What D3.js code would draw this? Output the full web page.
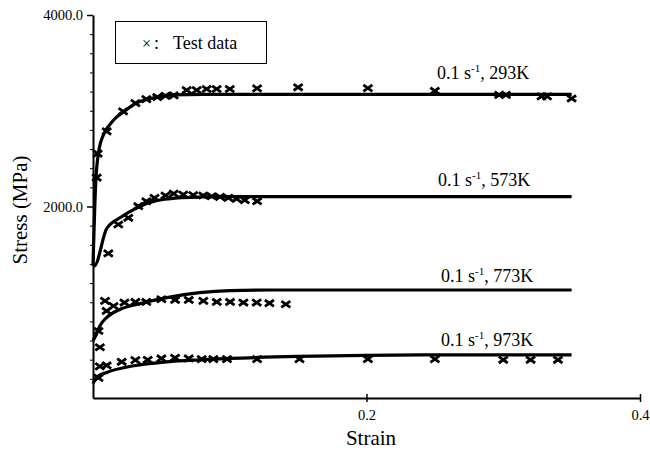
<!DOCTYPE html>
<html>
<head>
<meta charset="utf-8">
<script src="https://cdn.jsdelivr.net/npm/d3@7/dist/d3.min.js"></script>
<style>
  html, body { margin: 0; padding: 0; background: #fff; }
  svg { display: block; font-family: "Liberation Serif", "Times New Roman", serif; }
</style>
</head>
<body>
<svg id="chart" width="650" height="450"></svg>
<script>
// Model (fitted) flow-stress curves at 0.1 s^-1: strain and stress (MPa)
const fit293Strain = [0, 0.002, 0.004, 0.008, 0.012, 0.017, 0.023, 0.031, 0.043, 0.058, 0.08, 0.35];
const fit293Stress = [1380, 2250, 2560, 2760, 2850, 2930, 2995, 3075, 3130, 3165, 3172, 3172];
const fit573Strain = [0, 0.001, 0.010, 0.020, 0.030, 0.040, 0.050, 0.062, 0.080, 0.10, 0.35];
const fit573Stress = [1380, 1380, 1770, 1885, 1970, 2035, 2070, 2090, 2100, 2104, 2104];
const fit773Strain = [0, 0.002, 0.005, 0.010, 0.020, 0.034, 0.054, 0.078, 0.10, 0.13, 0.35];
const fit773Stress = [600, 650, 753, 840, 927, 985, 1049, 1100, 1122, 1128, 1128];
const fit973Strain = [0, 0.003, 0.010, 0.030, 0.054, 0.078, 0.10, 0.15, 0.20, 0.25, 0.35];
const fit973Stress = [150, 220, 267, 337, 378, 399, 413, 434, 446, 451, 451];

// Measured test data
const test293Strain = [0.0027, 0.0034, 0.010, 0.022, 0.031, 0.039, 0.047, 0.053, 0.059, 0.0685, 0.0758, 0.0831, 0.0904, 0.100, 0.120, 0.150, 0.201, 0.250, 0.297, 0.302, 0.328, 0.332, 0.350];
const test293Stress = [2302, 2552, 2785, 2993, 3080, 3122, 3143, 3156, 3160, 3216, 3216, 3227, 3227, 3227, 3234, 3245, 3236, 3208, 3165, 3165, 3150, 3150, 3128];
const test573Strain = [0.0112, 0.0185, 0.0258, 0.0331, 0.039, 0.045, 0.053, 0.059, 0.066, 0.0733, 0.0806, 0.0868, 0.0929, 0.099, 0.105, 0.111, 0.120];
const test573Stress = [1510, 1812, 1882, 2003, 2055, 2090, 2115, 2135, 2125, 2120, 2115, 2107, 2100, 2090, 2080, 2066, 2055];
const test773Strain = [0.004, 0.005, 0.0088, 0.010, 0.015, 0.023, 0.031, 0.039, 0.050, 0.060, 0.070, 0.0807, 0.0905, 0.1002, 0.110, 0.1197, 0.129, 0.141];
const test773Stress = [700, 530, 1014, 909, 961, 997, 1003, 1003, 1031, 1024, 1024, 1014, 1003, 1003, 997, 997, 990, 979];
const test973Strain = [0.004, 0.005, 0.010, 0.021, 0.031, 0.040, 0.050, 0.060, 0.070, 0.0795, 0.088, 0.098, 0.120, 0.151, 0.201, 0.250, 0.300, 0.320, 0.340];
const test973Stress = [210, 330, 340, 378, 396, 399, 413, 420, 413, 406, 406, 406, 406, 406, 406, 406, 399, 399, 399];

// Curve labels: strain rate and temperature
const curveRates = ["0.1", "0.1", "0.1", "0.1"];
const curveTemps = ["293K", "573K", "773K", "973K"];

// Axis ticks
const xTickValues = [0.2, 0.4];
const yTickValues = [2000, 4000];
const yMinorStep = 200;

const svg = d3.select("#chart");

const x = d3.scaleLinear().domain([0, 0.4]).range([93, 640]);
const y = d3.scaleLinear().domain([0, 4000]).range([398, 15]);

const zip = (a, b) => a.map((v, i) => [v, b[i]]);

const fits = [
  zip(fit293Strain, fit293Stress),
  zip(fit573Strain, fit573Stress),
  zip(fit773Strain, fit773Stress),
  zip(fit973Strain, fit973Stress)
];
const tests = [
  zip(test293Strain, test293Stress),
  zip(test573Strain, test573Stress),
  zip(test773Strain, test773Stress),
  zip(test973Strain, test973Stress)
];

const serif = "Liberation Serif";

// y minor ticks
const yMinor = d3.range(0, 4000 + 1, yMinorStep).filter(v => !yTickValues.includes(v) && v > 0);
svg.append("g")
  .attr("transform", `translate(${x(0)},0)`)
  .call(d3.axisLeft(y).tickValues(yMinor).tickSize(3).tickFormat(""))
  .call(g => g.select(".domain").remove())
  .call(g => g.selectAll("line").attr("stroke", "#000").attr("stroke-width", 1));

// y axis
const yAxis = svg.append("g")
  .attr("transform", `translate(${x(0)},0)`)
  .attr("font-family", serif)
  .call(d3.axisLeft(y).tickValues(yTickValues).tickSize(6).tickSizeOuter(0).tickPadding(4)
    .tickFormat(d3.format(".1f")));
yAxis.attr("font-family", serif).attr("font-size", 14.5);
yAxis.select(".domain").attr("stroke-width", 2);
yAxis.selectAll(".tick line").attr("stroke-width", 1.5);
yAxis.selectAll(".tick text").attr("fill", "#000");

// x axis
const xAxis = svg.append("g")
  .attr("transform", `translate(0,${y(0)})`)
  .call(d3.axisBottom(x).tickValues(xTickValues).tickSize(4).tickSizeOuter(0).tickPadding(8)
    .tickFormat(d3.format(".1f")));
xAxis.attr("font-family", serif).attr("font-size", 14.5);
xAxis.select(".domain").attr("stroke-width", 2);
xAxis.selectAll(".tick line").attr("y1", -4).attr("stroke-width", 1.5);
xAxis.selectAll(".tick text").attr("fill", "#000");

// axis titles
svg.append("text")
  .attr("x", 371).attr("y", 445)
  .attr("text-anchor", "middle")
  .attr("font-size", 21)
  .text("Strain");
svg.append("text")
  .attr("transform", "translate(27,210) rotate(-90)")
  .attr("text-anchor", "middle")
  .attr("font-size", 21)
  .text("Stress (MPa)");

// fitted curves
const line = d3.line().x(d => x(d[0])).y(d => y(d[1])).curve(d3.curveMonotoneX);
svg.append("g").selectAll("path")
  .data(fits)
  .join("path")
  .attr("d", line)
  .attr("fill", "none")
  .attr("stroke", "#000")
  .attr("stroke-width", 3.2)
  .attr("stroke-linejoin", "round");

// test data markers
const cross = "M-4.5,-3.2L4.5,3.2M-4.5,3.2L4.5,-3.2";
svg.append("g").selectAll("g")
  .data(tests)
  .join("g")
  .selectAll("path")
  .data(d => d)
  .join("path")
  .attr("transform", d => `translate(${x(d[0])},${y(d[1])})`)
  .attr("d", cross)
  .attr("fill", "none")
  .attr("stroke", "#000")
  .attr("stroke-width", 2.8);

// curve labels
const labelPos = [[437, 79], [438, 186], [441, 282], [441, 346]];
curveTemps.forEach((t, i) => {
  const txt = svg.append("text")
    .attr("x", labelPos[i][0]).attr("y", labelPos[i][1])
    .attr("font-size", 18);
  txt.append("tspan").text(curveRates[i] + " s");
  txt.append("tspan").attr("font-size", 11).attr("dy", -7).text("-1");
  txt.append("tspan").attr("dy", 7).text(", " + t);
});

// legend
svg.append("rect")
  .attr("x", 115.5).attr("y", 21.5)
  .attr("width", 151).attr("height", 42)
  .attr("fill", "#fff").attr("stroke", "#000").attr("stroke-width", 1);
svg.append("text").attr("x", 142).attr("y", 49).attr("font-size", 16).text("×");
svg.append("text").attr("x", 154).attr("y", 49).attr("font-size", 18).text(":");
svg.append("text").attr("x", 173).attr("y", 49).attr("font-size", 18).text("Test data");
</script>
</body>
</html>
